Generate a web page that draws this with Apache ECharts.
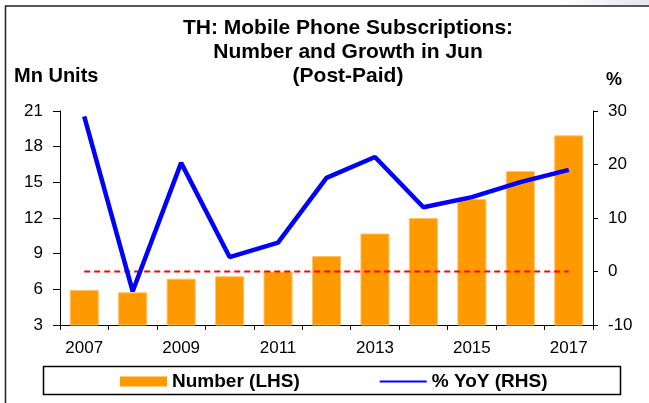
<!DOCTYPE html>
<html>
<head>
<meta charset="utf-8">
<script src="https://cdn.jsdelivr.net/npm/echarts@6/dist/echarts.min.js"></script>
<style>
  html, body { margin: 0; padding: 0; background: #fff; }
  #chart { width: 649px; height: 403px; }
</style>
</head>
<body>
<div id="chart"></div>
<script>
  // data
  const years = ['2007', '2008', '2009', '2010', '2011', '2012', '2013', '2014', '2015', '2016', '2017'];
  const number = [5.95, 5.75, 6.9, 7.1, 7.5, 8.8, 10.7, 12.0, 13.6, 15.95, 18.95];
  const yoy = [29.0, -3.7, 20.3, 2.7, 5.4, 17.5, 21.4, 12.0, 13.9, 16.7, 19.0];
  const zeroLine = [0, 0, 0, 0, 0, 0, 0, 0, 0, 0, 0];

  const titleLines = ['TH: Mobile Phone Subscriptions:', 'Number and Growth in Jun', '(Post-Paid)'];

  const font = 'Liberation Sans, Arial, sans-serif';
  const myChart = echarts.init(document.getElementById('chart'));

  let option = {
    animation: false,
    textStyle: { fontFamily: font },
    grid: { left: 60, right: 56, top: 111, bottom: 78 },
    legend: {
      left: 120,
      top: 372,
      padding: 0,
      itemGap: 79,
      itemWidth: 47,
      itemHeight: 10,
      textStyle: { fontFamily: font, fontSize: 19, fontWeight: 'bold', color: '#000' },
      data: [
        { name: 'Number (LHS)', icon: 'rect', itemStyle: { borderWidth: 0 } },
        { name: '% YoY (RHS)', itemStyle: { color: 'rgba(0,0,0,0)', borderWidth: 0 } }
      ]
    },
    xAxis: [
      {
        type: 'category',
        data: years,
        axisLine: { onZero: false, lineStyle: { color: '#000', width: 1 } },
        axisTick: { show: true, interval: 0, length: 5, lineStyle: { color: '#000' } },
        axisLabel: { interval: 1, margin: 15, fontSize: 17, color: '#000' }
      }
    ],
    yAxis: [
      {
        type: 'value',
        min: 3,
        max: 21,
        interval: 3,
        axisLine: { show: true, onZero: false, lineStyle: { color: '#000', width: 1 } },
        axisTick: { show: true, length: 7, lineStyle: { color: '#000' } },
        axisLabel: { margin: 17, fontSize: 17, color: '#000' },
        splitLine: { show: false }
      },
      {
        type: 'value',
        min: -10,
        max: 30,
        interval: 10,
        axisLine: { show: true, onZero: false, lineStyle: { color: '#000', width: 1 } },
        axisTick: { show: true, length: 5, lineStyle: { color: '#000' } },
        axisLabel: { margin: 15, fontSize: 17, color: '#000' },
        splitLine: { show: false }
      }
    ],
    series: [
      {
        name: 'Number (LHS)',
        type: 'bar',
        barWidth: '60%',
        data: number,
        itemStyle: { color: '#FF9900', borderColor: '#FFC36B', borderWidth: 1 },
        z: 2
      },
      {
        name: 'zero',
        type: 'line',
        yAxisIndex: 1,
        data: zeroLine,
        symbol: 'none',
        lineStyle: { color: '#FF0000', width: 2, type: [6, 4] },
        z: 3
      },
      {
        name: '% YoY (RHS)',
        type: 'line',
        yAxisIndex: 1,
        data: yoy,
        symbol: 'none',
        lineStyle: { color: '#0000FF', width: 4.5 },
        itemStyle: { color: '#0000FF' },
        z: 4
      }
    ],
    graphic: [
      {
        type: 'rect',
        shape: { x: 560, y: 0, width: 89, height: 5 },
        style: {
          fill: new echarts.graphic.LinearGradient(0, 0, 1, 0, [
            { offset: 0, color: '#ffffff' },
            { offset: 1, color: '#E6E4F0' }
          ])
        },
        silent: true
      },
      {
        type: 'polyline',
        shape: { points: [[5.5, 403], [5.5, 6], [649, 6]] },
        style: { stroke: '#222', lineWidth: 1.5, fill: null },
        silent: true
      },
      {
        type: 'rect',
        shape: { x: 43.5, y: 366.5, width: 577, height: 28 },
        style: { stroke: '#000', lineWidth: 1.5, fill: null },
        silent: true
      },
      {
        type: 'text',
        x: 348,
        y: 16,
        style: {
          text: titleLines.join('\n'),
          font: 'bold 21px ' + font,
          lineHeight: 24,
          align: 'center',
          verticalAlign: 'top',
          fill: '#000'
        }
      },
      {
        type: 'text',
        x: 14,
        y: 66,
        style: { text: 'Mn Units', font: 'bold 20px ' + font, fill: '#000' }
      },
      {
        type: 'text',
        x: 606,
        y: 71,
        style: { text: '%', font: 'bold 18px ' + font, fill: '#000' }
      }
    ]
  };
  myChart.setOption(option);
</script>
</body>
</html>
